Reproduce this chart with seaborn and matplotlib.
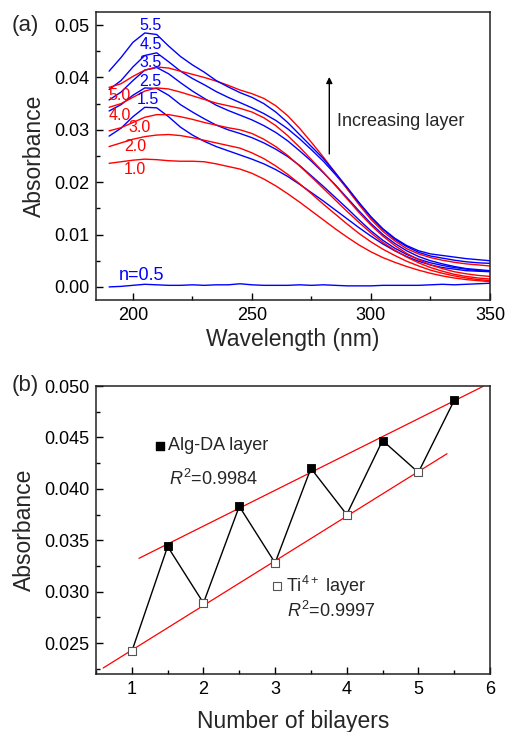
import numpy as np
import pandas as pd
import matplotlib
matplotlib.use("Agg")
import matplotlib.pyplot as plt
from matplotlib.ticker import MultipleLocator
import seaborn as sns

# ---------------- data: panel (a) ----------------
wavelength = list(range(190, 351, 5))

abs_0_5 = [0.0000, 0.0001, 0.0003, 0.0005, 0.0004, 0.0003, 0.0003, 0.0004, 0.0003, 0.0004, 0.0004,
           0.0006, 0.0004, 0.0003, 0.0003, 0.0003, 0.0004, 0.0003, 0.0004, 0.0003, 0.0002, 0.0002,
           0.0002, 0.0003, 0.0003, 0.0003, 0.0003, 0.0004, 0.0005, 0.0004, 0.0005, 0.0006, 0.0007]
abs_1_0 = [0.0236, 0.0239, 0.0242, 0.0244, 0.0243, 0.0241, 0.0240, 0.0240, 0.0239, 0.0235, 0.0230,
           0.0225, 0.0217, 0.0206, 0.0193, 0.0178, 0.0162, 0.0145, 0.0128, 0.0111, 0.0095, 0.0080,
           0.0067, 0.0056, 0.0047, 0.0039, 0.0032, 0.0026, 0.0021, 0.0017, 0.0014, 0.0012, 0.0010]
abs_1_5 = [0.0288, 0.0303, 0.0325, 0.0343, 0.0342, 0.0325, 0.0305, 0.0290, 0.0278, 0.0268, 0.0260,
           0.0252, 0.0244, 0.0235, 0.0224, 0.0211, 0.0196, 0.0180, 0.0164, 0.0147, 0.0130, 0.0113,
           0.0097, 0.0082, 0.0069, 0.0058, 0.0049, 0.0042, 0.0037, 0.0034, 0.0031, 0.0030, 0.0029]
abs_2_0 = [0.0268, 0.0275, 0.0282, 0.0287, 0.0290, 0.0291, 0.0289, 0.0285, 0.0280, 0.0275, 0.0270,
           0.0265, 0.0256, 0.0245, 0.0231, 0.0215, 0.0197, 0.0178, 0.0158, 0.0139, 0.0120, 0.0102,
           0.0086, 0.0072, 0.0060, 0.0049, 0.0040, 0.0032, 0.0026, 0.0021, 0.0017, 0.0014, 0.0012]
abs_2_5 = [0.0336, 0.0348, 0.0366, 0.0380, 0.0379, 0.0366, 0.0348, 0.0334, 0.0321, 0.0309, 0.0300,
           0.0293, 0.0285, 0.0275, 0.0263, 0.0249, 0.0232, 0.0212, 0.0192, 0.0171, 0.0150, 0.0128,
           0.0107, 0.0089, 0.0074, 0.0062, 0.0053, 0.0046, 0.0041, 0.0037, 0.0034, 0.0031, 0.0030]
abs_3_0 = [0.0298, 0.0304, 0.0314, 0.0324, 0.0329, 0.0329, 0.0325, 0.0320, 0.0314, 0.0309, 0.0304,
           0.0300, 0.0293, 0.0282, 0.0268, 0.0251, 0.0231, 0.0210, 0.0188, 0.0166, 0.0144, 0.0123,
           0.0103, 0.0085, 0.0070, 0.0057, 0.0046, 0.0037, 0.0030, 0.0024, 0.0020, 0.0017, 0.0015]
abs_3_5 = [0.0357, 0.0372, 0.0394, 0.0414, 0.0419, 0.0407, 0.0390, 0.0374, 0.0360, 0.0347, 0.0337,
           0.0328, 0.0319, 0.0308, 0.0295, 0.0279, 0.0260, 0.0240, 0.0218, 0.0195, 0.0170, 0.0145,
           0.0121, 0.0100, 0.0083, 0.0069, 0.0058, 0.0050, 0.0044, 0.0039, 0.0035, 0.0033, 0.0031]
abs_4_0 = [0.0343, 0.0350, 0.0362, 0.0374, 0.0380, 0.0378, 0.0372, 0.0365, 0.0358, 0.0351, 0.0346,
           0.0341, 0.0334, 0.0323, 0.0308, 0.0289, 0.0267, 0.0243, 0.0219, 0.0194, 0.0168, 0.0142,
           0.0118, 0.0097, 0.0079, 0.0064, 0.0052, 0.0042, 0.0035, 0.0029, 0.0025, 0.0022, 0.0020]
abs_4_5 = [0.0377, 0.0394, 0.0420, 0.0442, 0.0447, 0.0430, 0.0412, 0.0398, 0.0386, 0.0373, 0.0362,
           0.0352, 0.0342, 0.0331, 0.0318, 0.0302, 0.0283, 0.0262, 0.0240, 0.0215, 0.0188, 0.0160,
           0.0133, 0.0110, 0.0091, 0.0077, 0.0066, 0.0059, 0.0055, 0.0051, 0.0048, 0.0046, 0.0045]
abs_5_0 = [0.0381, 0.0388, 0.0402, 0.0414, 0.0420, 0.0418, 0.0412, 0.0406, 0.0400, 0.0393, 0.0385,
           0.0376, 0.0369, 0.0360, 0.0346, 0.0327, 0.0303, 0.0276, 0.0248, 0.0218, 0.0187, 0.0157,
           0.0129, 0.0106, 0.0088, 0.0073, 0.0063, 0.0056, 0.0051, 0.0047, 0.0044, 0.0042, 0.0040]
abs_5_5 = [0.0412, 0.0438, 0.0467, 0.0485, 0.0482, 0.0460, 0.0440, 0.0424, 0.0410, 0.0394, 0.0382,
           0.0371, 0.0362, 0.0350, 0.0334, 0.0314, 0.0291, 0.0268, 0.0245, 0.0218, 0.0190, 0.0161,
           0.0134, 0.0111, 0.0093, 0.0079, 0.0069, 0.0063, 0.0060, 0.0057, 0.0054, 0.0052, 0.0050]

layer_names = ["0.5", "1.0", "1.5", "2.0", "2.5", "3.0", "3.5", "4.0", "4.5", "5.0", "5.5"]
spectra = [abs_0_5, abs_1_0, abs_1_5, abs_2_0, abs_2_5, abs_3_0, abs_3_5, abs_4_0, abs_4_5, abs_5_0, abs_5_5]

# curve labels: text, x (nm), y (absorbance)
label_text = ["5.5", "4.5", "3.5", "2.5", "1.5", "5.0", "4.0", "3.0", "2.0", "1.0"]
label_x = [207.5, 207.5, 207.5, 207.5, 206.5, 194.5, 194.5, 203.0, 201.0, 201.0]
label_y = [0.0500, 0.0463, 0.0429, 0.0393, 0.0357, 0.0366, 0.0328, 0.0304, 0.0268, 0.0225]

# ---------------- data: panel (b) ----------------
algda_x = [1.5, 2.5, 3.5, 4.5, 5.5]
algda_y = [0.0344, 0.0383, 0.0420, 0.0447, 0.0486]
ti_x = [1, 2, 3, 4, 5]
ti_y = [0.0242, 0.0289, 0.0328, 0.0375, 0.0416]
all_x = [1, 1.5, 2, 2.5, 3, 3.5, 4, 4.5, 5, 5.5]
all_y = [0.0242, 0.0344, 0.0289, 0.0383, 0.0328, 0.0420, 0.0375, 0.0447, 0.0416, 0.0486]
algda_fit_range = [1.1, 5.9]
ti_fit_range = [0.6, 5.4]

# ---------------- style ----------------
sns.set_theme(style="ticks")
plt.rcParams["font.family"] = ["Liberation Sans", "DejaVu Sans"]
plt.rcParams["mathtext.fontset"] = "custom"
plt.rcParams["mathtext.rm"] = "Liberation Sans"
plt.rcParams["mathtext.it"] = "Liberation Sans:italic"
plt.rcParams["axes.linewidth"] = 1.1
plt.rcParams["axes.edgecolor"] = "#222222"

fig = plt.figure(figsize=(5.06, 7.32), dpi=100)
axA = fig.add_axes([96 / 506, 1 - 300 / 732, 394 / 506, 288 / 732])
axB = fig.add_axes([96 / 506, 1 - 674 / 732, 394 / 506, 288 / 732])

# ---------------- panel (a) ----------------
rows = []
for name, vals in zip(layer_names, spectra):
    for w, a in zip(wavelength, vals):
        rows.append((name, w, a))
dfA = pd.DataFrame(rows, columns=["layer", "wl", "A"])
palette = {n: ("red" if n.endswith(".0") else "blue") for n in layer_names}
sns.lineplot(data=dfA, x="wl", y="A", hue="layer", palette=palette, estimator=None,
             sort=False, legend=False, linewidth=1.0, ax=axA)

for t, x, y in zip(label_text, label_x, label_y):
    axA.text(x, y, t, color=("red" if t.endswith(".0") else "blue"), fontsize=11.5,
             ha="center", va="center")
axA.text(194, 0.0021, "n=0.5", color="blue", fontsize=13, ha="left", va="center")
axA.annotate("", xy=(282.5, 0.0401), xytext=(282.5, 0.0254),
             arrowprops=dict(arrowstyle="-|>", color="black", lw=1.0,
                             mutation_scale=9, shrinkA=0, shrinkB=0))
axA.text(285.8, 0.0316, "Increasing layer", fontsize=13, ha="left", va="center")

axA.set_xlim(184.5, 350)
axA.set_ylim(-0.0025, 0.0525)
axA.xaxis.set_major_locator(MultipleLocator(50))
axA.xaxis.set_minor_locator(MultipleLocator(25))
axA.yaxis.set_minor_locator(MultipleLocator(0.005))
axA.set_yticks([0, 0.01, 0.02, 0.03, 0.04, 0.05])
axA.set_yticklabels(["0.00", "0.01", "0.02", "0.03", "0.04", "0.05"])
axA.set_xlabel("Wavelength (nm)", fontsize=16.5, labelpad=3)
axA.set_ylabel("Absorbance", fontsize=16.5, labelpad=6)
fig.text(25 / 506, 1 - 25 / 732, "(a)", fontsize=16, ha="center", va="center")

# ---------------- panel (b) ----------------
sns.lineplot(x=all_x, y=all_y, color="black", linewidth=1.0, sort=False, ax=axB, zorder=2)
k1 = np.polyfit(algda_x, algda_y, 1)
k2 = np.polyfit(ti_x, ti_y, 1)
fx1 = np.array(algda_fit_range)
fx2 = np.array(ti_fit_range)
sns.lineplot(x=fx1, y=np.polyval(k1, fx1), color="red", linewidth=0.9, ax=axB, zorder=1)
sns.lineplot(x=fx2, y=np.polyval(k2, fx2), color="red", linewidth=0.9, ax=axB, zorder=1)
sns.scatterplot(x=algda_x, y=algda_y, marker="s", s=40, color="black",
                edgecolor="black", linewidth=0.6, ax=axB, zorder=3)
sns.scatterplot(x=ti_x, y=ti_y, marker="s", s=40, color="white",
                edgecolor="#555555", linewidth=0.8, ax=axB, zorder=3)

# in-plot legend texts
axB.scatter([1.39], [0.0442], marker="s", s=40, color="black", zorder=3)
axB.text(1.51, 0.0442, "Alg-DA layer", fontsize=13, ha="left", va="center")
axB.text(1.52, 0.0410, "$\\mathit{R}^2$=0.9984", fontsize=13, ha="left", va="center")
axB.scatter([3.03], [0.03052], marker="s", s=40, facecolor="white",
            edgecolor="#555555", linewidth=0.8, zorder=3)
axB.text(3.15, 0.03052, "Ti$^{4+}$ layer", fontsize=13, ha="left", va="center")
axB.text(3.165, 0.02811, "$\\mathit{R}^2$=0.9997", fontsize=13, ha="left", va="center")

axB.set_xlim(0.5, 6)
axB.set_ylim(0.022, 0.050)
axB.xaxis.set_major_locator(MultipleLocator(1))
axB.xaxis.set_minor_locator(MultipleLocator(0.5))
axB.set_yticks([0.025, 0.030, 0.035, 0.040, 0.045, 0.050])
axB.set_yticklabels(["0.025", "0.030", "0.035", "0.040", "0.045", "0.050"])
axB.yaxis.set_minor_locator(MultipleLocator(0.0025))
axB.set_xlabel("Number of bilayers", fontsize=16.5, labelpad=9)
axB.set_ylabel("Absorbance", fontsize=16.5, labelpad=6)
fig.text(25 / 506, 1 - 386 / 732, "(b)", fontsize=16, ha="center", va="center")

for ax in (axA, axB):
    ax.tick_params(which="both", direction="in", top=False, right=False,
                   labelsize=13, colors="black", width=1.0)
    ax.tick_params(which="major", length=5, pad=5)
    ax.tick_params(which="minor", length=3)
    for s in ax.spines.values():
        s.set_visible(True)
        s.set_color("#222222")

fig.savefig("out.png", dpi=100)
